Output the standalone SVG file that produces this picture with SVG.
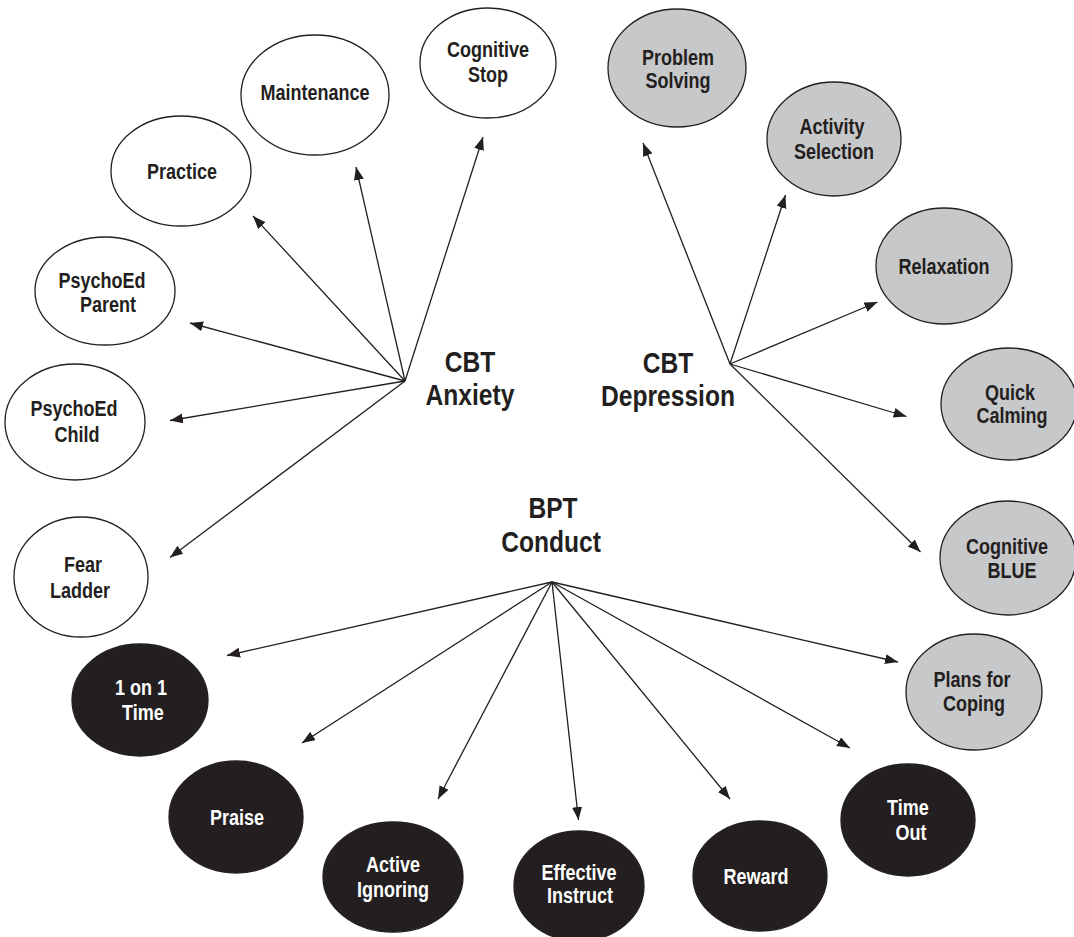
<svg xmlns="http://www.w3.org/2000/svg" width="1074" height="937" viewBox="0 0 1074 937">
  <defs>
    <marker id="arrow" markerUnits="userSpaceOnUse" markerWidth="14" markerHeight="11" refX="13" refY="5" orient="auto">
      <path d="M0,0 L13,5 L0,10 z" fill="#231f20"/>
    </marker>
    <style>
      text { font-family: "Liberation Sans", Arial, sans-serif; font-weight: bold; text-anchor: middle; fill: #231f20; }
      .node { font-size: 22px; }
      .hub { font-size: 30px; }
      .white ellipse { fill: #ffffff; stroke: #231f20; stroke-width: 1.3; }
      .gray ellipse { fill: #c7c8ca; stroke: #231f20; stroke-width: 1.3; }
      .dark ellipse { fill: #231f20; stroke: #231f20; stroke-width: 1.3; }
      .dark text { fill: #ffffff; }
      #connectors line { stroke: #231f20; stroke-width: 1.3; fill: none; marker-end: url(#arrow); }
    </style>
  </defs>
  <rect width="1074" height="937" fill="#ffffff"/>

  <!-- connectors -->
  <g id="connectors">
    <!-- CBT Anxiety -->
    <line x1="405" y1="381" x2="483" y2="137"/>
    <line x1="405" y1="381" x2="356" y2="167"/>
    <line x1="405" y1="381" x2="253" y2="216"/>
    <line x1="405" y1="381" x2="190" y2="323"/>
    <line x1="405" y1="381" x2="170" y2="420.5"/>
    <line x1="405" y1="381" x2="170" y2="557.5"/>
    <!-- CBT Depression -->
    <line x1="730" y1="364" x2="643" y2="143"/>
    <line x1="730" y1="364" x2="785.5" y2="195"/>
    <line x1="730" y1="364" x2="877.5" y2="302"/>
    <line x1="730" y1="364" x2="906.5" y2="416.5"/>
    <line x1="730" y1="364" x2="920.5" y2="552"/>
    <!-- BPT Conduct -->
    <line x1="552" y1="582" x2="227" y2="655.5"/>
    <line x1="552" y1="582" x2="302" y2="743"/>
    <line x1="552" y1="582" x2="438" y2="799"/>
    <line x1="552" y1="582" x2="578.5" y2="820"/>
    <line x1="552" y1="582" x2="730" y2="799"/>
    <line x1="552" y1="582" x2="850" y2="748"/>
    <line x1="552" y1="582" x2="898" y2="662"/>
  </g>

  <!-- hub labels (condensed by a horizontal scale) -->
  <g id="cbt-anxiety">
    <text class="hub" transform="translate(470 372) scale(0.82 1)">CBT</text>
    <text class="hub" transform="translate(470 405) scale(0.82 1)">Anxiety</text>
  </g>
  <g id="cbt-depression">
    <text class="hub" transform="translate(668 373) scale(0.82 1)">CBT</text>
    <text class="hub" transform="translate(668 406) scale(0.82 1)">Depression</text>
  </g>
  <g id="bpt-conduct">
    <text class="hub" transform="translate(553 518) scale(0.82 1)">BPT</text>
    <text class="hub" transform="translate(551 552) scale(0.82 1)">Conduct</text>
  </g>

  <!-- CBT Anxiety modules -->
  <g id="cognitive-stop" class="white">
    <ellipse cx="488" cy="63" rx="68" ry="55"/>
    <text class="node" transform="translate(488 57) scale(0.82 1)">Cognitive</text>
    <text class="node" transform="translate(488 82) scale(0.82 1)">Stop</text>
  </g>
  <g id="maintenance" class="white">
    <ellipse cx="315" cy="95" rx="74" ry="60"/>
    <text class="node" transform="translate(315 100) scale(0.82 1)">Maintenance</text>
  </g>
  <g id="practice" class="white">
    <ellipse cx="181" cy="171" rx="70" ry="55"/>
    <text class="node" transform="translate(182 179) scale(0.82 1)">Practice</text>
  </g>
  <g id="psychoed-parent" class="white">
    <ellipse cx="105" cy="291" rx="70" ry="54"/>
    <text class="node" transform="translate(102 288) scale(0.82 1)">PsychoEd</text>
    <text class="node" transform="translate(108 312) scale(0.82 1)">Parent</text>
  </g>
  <g id="psychoed-child" class="white">
    <ellipse cx="75" cy="422" rx="70" ry="58"/>
    <text class="node" transform="translate(74 416) scale(0.82 1)">PsychoEd</text>
    <text class="node" transform="translate(77 442) scale(0.82 1)">Child</text>
  </g>
  <g id="fear-ladder" class="white">
    <ellipse cx="81" cy="577" rx="67" ry="60"/>
    <text class="node" transform="translate(83 572) scale(0.82 1)">Fear</text>
    <text class="node" transform="translate(80 598) scale(0.82 1)">Ladder</text>
  </g>

  <!-- CBT Depression modules -->
  <g id="problem-solving" class="gray">
    <ellipse cx="677" cy="68" rx="69" ry="59"/>
    <text class="node" transform="translate(678 65) scale(0.82 1)">Problem</text>
    <text class="node" transform="translate(678 88) scale(0.82 1)">Solving</text>
  </g>
  <g id="activity-selection" class="gray">
    <ellipse cx="834" cy="139" rx="67" ry="57"/>
    <text class="node" transform="translate(832 134) scale(0.82 1)">Activity</text>
    <text class="node" transform="translate(834 159) scale(0.82 1)">Selection</text>
  </g>
  <g id="relaxation" class="gray">
    <ellipse cx="944" cy="266" rx="68" ry="58"/>
    <text class="node" transform="translate(944 274) scale(0.82 1)">Relaxation</text>
  </g>
  <g id="quick-calming" class="gray">
    <ellipse cx="1009" cy="404" rx="68" ry="56"/>
    <text class="node" transform="translate(1010 400) scale(0.82 1)">Quick</text>
    <text class="node" transform="translate(1012 423) scale(0.82 1)">Calming</text>
  </g>
  <g id="cognitive-blue" class="gray">
    <ellipse cx="1008" cy="558" rx="68" ry="57"/>
    <text class="node" transform="translate(1007 554) scale(0.82 1)">Cognitive</text>
    <text class="node" transform="translate(1012 578) scale(0.82 1)">BLUE</text>
  </g>
  <g id="plans-for-coping" class="gray">
    <ellipse cx="974" cy="692" rx="68" ry="58"/>
    <text class="node" transform="translate(972 687) scale(0.82 1)">Plans for</text>
    <text class="node" transform="translate(974 711) scale(0.82 1)">Coping</text>
  </g>

  <!-- BPT Conduct modules -->
  <g id="one-on-one-time" class="dark">
    <ellipse cx="140" cy="700" rx="68" ry="56"/>
    <text class="node" transform="translate(141 695) scale(0.82 1)">1 on 1</text>
    <text class="node" transform="translate(143 720) scale(0.82 1)">Time</text>
  </g>
  <g id="praise" class="dark">
    <ellipse cx="236" cy="817" rx="67" ry="56"/>
    <text class="node" transform="translate(237 825) scale(0.82 1)">Praise</text>
  </g>
  <g id="active-ignoring" class="dark">
    <ellipse cx="393" cy="877" rx="70" ry="55"/>
    <text class="node" transform="translate(393 872) scale(0.82 1)">Active</text>
    <text class="node" transform="translate(393 897) scale(0.82 1)">Ignoring</text>
  </g>
  <g id="effective-instruct" class="dark">
    <ellipse cx="579" cy="886" rx="65" ry="55"/>
    <text class="node" transform="translate(579 880) scale(0.82 1)">Effective</text>
    <text class="node" transform="translate(580 903) scale(0.82 1)">Instruct</text>
  </g>
  <g id="reward" class="dark">
    <ellipse cx="760" cy="876" rx="67" ry="55"/>
    <text class="node" transform="translate(756 884) scale(0.82 1)">Reward</text>
  </g>
  <g id="time-out" class="dark">
    <ellipse cx="908" cy="820" rx="67" ry="56"/>
    <text class="node" transform="translate(908 815) scale(0.82 1)">Time</text>
    <text class="node" transform="translate(911 840) scale(0.82 1)">Out</text>
  </g>
</svg>
